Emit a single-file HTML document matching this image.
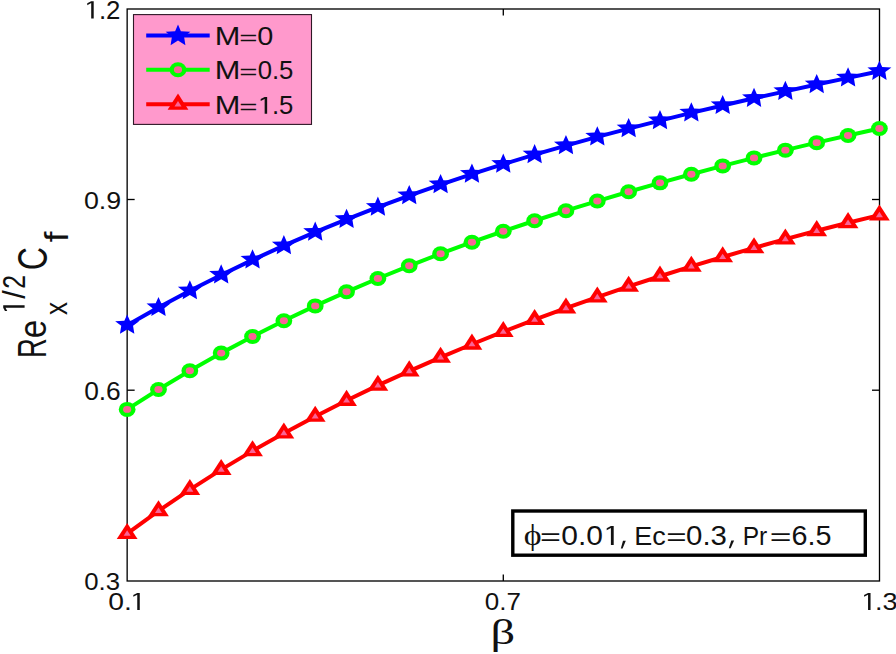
<!DOCTYPE html>
<html><head><meta charset="utf-8"><style>
html,body{margin:0;padding:0;background:#fff;width:896px;height:654px;overflow:hidden}
svg{display:block}
text{font-family:"Liberation Sans",sans-serif;fill:#111}
</style></head><body>
<svg width="896" height="654" viewBox="0 0 896 654">
<rect width="896" height="654" fill="#fff"/>
<rect x="127.15" y="9.0" width="752.35" height="572.0" fill="none" stroke="#000" stroke-width="1.33"/>
<line x1="127.15" y1="199.5" x2="134.65" y2="199.5" stroke="#000" stroke-width="1.33"/>
<line x1="879.5" y1="199.5" x2="872.0" y2="199.5" stroke="#000" stroke-width="1.33"/>
<line x1="127.15" y1="390.2" x2="134.65" y2="390.2" stroke="#000" stroke-width="1.33"/>
<line x1="879.5" y1="390.2" x2="872.0" y2="390.2" stroke="#000" stroke-width="1.33"/>
<line x1="503.3" y1="581.0" x2="503.3" y2="574.5" stroke="#000" stroke-width="1.33"/>
<line x1="503.3" y1="9.0" x2="503.3" y2="15.5" stroke="#000" stroke-width="1.33"/>
<polyline points="127.15,325.14 158.49,307.48 189.84,290.76 221.18,274.93 252.53,259.92 283.87,245.69 315.21,232.19 346.56,219.38 377.9,207.21 409.24,195.64 440.59,184.64 471.93,174.17 503.27,164.2 534.62,154.69 565.96,145.6 597.31,136.91 628.65,128.59 659.99,120.6 691.34,112.91 722.68,105.49 754.02,98.31 785.37,91.34 816.71,84.54 848.06,77.88 879.4,71.31" fill="none" stroke="#0000ff" stroke-width="4.0" stroke-linejoin="round" stroke-linecap="round"/>
<polyline points="127.15,409.38 158.49,389.48 189.84,370.75 221.18,353.11 252.53,336.46 283.87,320.75 315.21,305.89 346.56,291.82 377.9,278.48 409.24,265.8 440.59,253.74 471.93,242.24 503.27,231.26 534.62,220.76 565.96,210.7 597.31,201.04 628.65,191.76 659.99,182.83 691.34,174.22 722.68,165.91 754.02,157.9 785.37,150.15 816.71,142.66 848.06,135.43 879.4,128.43" fill="none" stroke="#00ff00" stroke-width="4.0" stroke-linejoin="round" stroke-linecap="round"/>
<polyline points="127.15,533.58 158.49,510.86 189.84,489.6 221.18,469.63 252.53,450.85 283.87,433.14 315.21,416.39 346.56,400.51 377.9,385.42 409.24,371.06 440.59,357.36 471.93,344.26 503.27,331.72 534.62,319.7 565.96,308.17 597.31,297.1 628.65,286.46 659.99,276.23 691.34,266.4 722.68,256.96 754.02,247.88 785.37,239.17 816.71,230.8 848.06,222.78 879.4,215.08" fill="none" stroke="#ff0000" stroke-width="4.0" stroke-linejoin="round" stroke-linecap="round"/>
<polygon points="127.15,314.54 129.95,320.84 139.15,321.24 133.05,325.84 134.35,333.74 127.15,329.44 119.95,333.74 121.25,325.84 115.15,321.24 124.35,320.84" fill="#0000ff"/>
<polygon points="158.49,296.88 161.29,303.18 170.49,303.58 164.39,308.18 165.69,316.08 158.49,311.78 151.29,316.08 152.59,308.18 146.49,303.58 155.69,303.18" fill="#0000ff"/>
<polygon points="189.84,280.16 192.64,286.46 201.84,286.86 195.74,291.46 197.04,299.36 189.84,295.06 182.64,299.36 183.94,291.46 177.84,286.86 187.04,286.46" fill="#0000ff"/>
<polygon points="221.18,264.33 223.98,270.63 233.18,271.03 227.08,275.63 228.38,283.53 221.18,279.23 213.98,283.53 215.28,275.63 209.18,271.03 218.38,270.63" fill="#0000ff"/>
<polygon points="252.53,249.32 255.33,255.62 264.52,256.02 258.43,260.62 259.73,268.52 252.53,264.22 245.33,268.52 246.62,260.62 240.53,256.02 249.72,255.62" fill="#0000ff"/>
<polygon points="283.87,235.09 286.67,241.39 295.87,241.79 289.77,246.39 291.07,254.29 283.87,249.99 276.67,254.29 277.97,246.39 271.87,241.79 281.07,241.39" fill="#0000ff"/>
<polygon points="315.21,221.59 318.01,227.89 327.21,228.29 321.11,232.89 322.41,240.79 315.21,236.49 308.01,240.79 309.31,232.89 303.21,228.29 312.41,227.89" fill="#0000ff"/>
<polygon points="346.56,208.78 349.36,215.08 358.56,215.48 352.46,220.08 353.76,227.98 346.56,223.68 339.36,227.98 340.66,220.08 334.56,215.48 343.76,215.08" fill="#0000ff"/>
<polygon points="377.9,196.61 380.7,202.91 389.9,203.31 383.8,207.91 385.1,215.81 377.9,211.51 370.7,215.81 372,207.91 365.9,203.31 375.1,202.91" fill="#0000ff"/>
<polygon points="409.24,185.04 412.04,191.34 421.24,191.74 415.14,196.34 416.44,204.24 409.24,199.94 402.04,204.24 403.34,196.34 397.24,191.74 406.44,191.34" fill="#0000ff"/>
<polygon points="440.59,174.04 443.39,180.34 452.59,180.74 446.49,185.34 447.79,193.24 440.59,188.94 433.39,193.24 434.69,185.34 428.59,180.74 437.79,180.34" fill="#0000ff"/>
<polygon points="471.93,163.57 474.73,169.87 483.93,170.27 477.83,174.87 479.13,182.77 471.93,178.47 464.73,182.77 466.03,174.87 459.93,170.27 469.13,169.87" fill="#0000ff"/>
<polygon points="503.27,153.6 506.07,159.9 515.27,160.3 509.17,164.9 510.47,172.8 503.27,168.5 496.07,172.8 497.38,164.9 491.27,160.3 500.47,159.9" fill="#0000ff"/>
<polygon points="534.62,144.09 537.42,150.39 546.62,150.79 540.52,155.39 541.82,163.29 534.62,158.99 527.42,163.29 528.72,155.39 522.62,150.79 531.82,150.39" fill="#0000ff"/>
<polygon points="565.96,135 568.76,141.3 577.96,141.7 571.86,146.3 573.16,154.2 565.96,149.9 558.76,154.2 560.06,146.3 553.96,141.7 563.16,141.3" fill="#0000ff"/>
<polygon points="597.31,126.31 600.11,132.61 609.31,133.01 603.21,137.61 604.51,145.51 597.31,141.21 590.11,145.51 591.41,137.61 585.31,133.01 594.51,132.61" fill="#0000ff"/>
<polygon points="628.65,117.99 631.45,124.29 640.65,124.69 634.55,129.29 635.85,137.19 628.65,132.89 621.45,137.19 622.75,129.29 616.65,124.69 625.85,124.29" fill="#0000ff"/>
<polygon points="659.99,110 662.79,116.3 671.99,116.7 665.89,121.3 667.19,129.2 659.99,124.9 652.79,129.2 654.09,121.3 647.99,116.7 657.19,116.3" fill="#0000ff"/>
<polygon points="691.34,102.31 694.14,108.61 703.34,109.01 697.24,113.61 698.54,121.51 691.34,117.21 684.14,121.51 685.44,113.61 679.34,109.01 688.54,108.61" fill="#0000ff"/>
<polygon points="722.68,94.89 725.48,101.19 734.68,101.59 728.58,106.19 729.88,114.09 722.68,109.79 715.48,114.09 716.78,106.19 710.68,101.59 719.88,101.19" fill="#0000ff"/>
<polygon points="754.02,87.71 756.82,94.01 766.02,94.41 759.92,99.01 761.23,106.91 754.02,102.61 746.82,106.91 748.12,99.01 742.02,94.41 751.23,94.01" fill="#0000ff"/>
<polygon points="785.37,80.74 788.17,87.04 797.37,87.44 791.27,92.04 792.57,99.94 785.37,95.64 778.17,99.94 779.47,92.04 773.37,87.44 782.57,87.04" fill="#0000ff"/>
<polygon points="816.71,73.94 819.51,80.24 828.71,80.64 822.61,85.24 823.91,93.14 816.71,88.84 809.51,93.14 810.81,85.24 804.71,80.64 813.91,80.24" fill="#0000ff"/>
<polygon points="848.06,67.28 850.86,73.58 860.06,73.98 853.96,78.58 855.26,86.48 848.06,82.18 840.86,86.48 842.16,78.58 836.06,73.98 845.26,73.58" fill="#0000ff"/>
<polygon points="879.4,60.71 882.2,67.01 891.4,67.41 885.3,72.01 886.6,79.91 879.4,75.61 872.2,79.91 873.5,72.01 867.4,67.41 876.6,67.01" fill="#0000ff"/>
<ellipse cx="127.15" cy="409.38" rx="8.4" ry="7.5" fill="#00ff00"/><ellipse cx="127.15" cy="409.38" rx="4.1" ry="3.45" fill="#f96496"/>
<ellipse cx="158.49" cy="389.48" rx="8.4" ry="7.5" fill="#00ff00"/><ellipse cx="158.49" cy="389.48" rx="4.1" ry="3.45" fill="#f96496"/>
<ellipse cx="189.84" cy="370.75" rx="8.4" ry="7.5" fill="#00ff00"/><ellipse cx="189.84" cy="370.75" rx="4.1" ry="3.45" fill="#f96496"/>
<ellipse cx="221.18" cy="353.11" rx="8.4" ry="7.5" fill="#00ff00"/><ellipse cx="221.18" cy="353.11" rx="4.1" ry="3.45" fill="#f96496"/>
<ellipse cx="252.53" cy="336.46" rx="8.4" ry="7.5" fill="#00ff00"/><ellipse cx="252.53" cy="336.46" rx="4.1" ry="3.45" fill="#f96496"/>
<ellipse cx="283.87" cy="320.75" rx="8.4" ry="7.5" fill="#00ff00"/><ellipse cx="283.87" cy="320.75" rx="4.1" ry="3.45" fill="#f96496"/>
<ellipse cx="315.21" cy="305.89" rx="8.4" ry="7.5" fill="#00ff00"/><ellipse cx="315.21" cy="305.89" rx="4.1" ry="3.45" fill="#f96496"/>
<ellipse cx="346.56" cy="291.82" rx="8.4" ry="7.5" fill="#00ff00"/><ellipse cx="346.56" cy="291.82" rx="4.1" ry="3.45" fill="#f96496"/>
<ellipse cx="377.9" cy="278.48" rx="8.4" ry="7.5" fill="#00ff00"/><ellipse cx="377.9" cy="278.48" rx="4.1" ry="3.45" fill="#f96496"/>
<ellipse cx="409.24" cy="265.8" rx="8.4" ry="7.5" fill="#00ff00"/><ellipse cx="409.24" cy="265.8" rx="4.1" ry="3.45" fill="#f96496"/>
<ellipse cx="440.59" cy="253.74" rx="8.4" ry="7.5" fill="#00ff00"/><ellipse cx="440.59" cy="253.74" rx="4.1" ry="3.45" fill="#f96496"/>
<ellipse cx="471.93" cy="242.24" rx="8.4" ry="7.5" fill="#00ff00"/><ellipse cx="471.93" cy="242.24" rx="4.1" ry="3.45" fill="#f96496"/>
<ellipse cx="503.27" cy="231.26" rx="8.4" ry="7.5" fill="#00ff00"/><ellipse cx="503.27" cy="231.26" rx="4.1" ry="3.45" fill="#f96496"/>
<ellipse cx="534.62" cy="220.76" rx="8.4" ry="7.5" fill="#00ff00"/><ellipse cx="534.62" cy="220.76" rx="4.1" ry="3.45" fill="#f96496"/>
<ellipse cx="565.96" cy="210.7" rx="8.4" ry="7.5" fill="#00ff00"/><ellipse cx="565.96" cy="210.7" rx="4.1" ry="3.45" fill="#f96496"/>
<ellipse cx="597.31" cy="201.04" rx="8.4" ry="7.5" fill="#00ff00"/><ellipse cx="597.31" cy="201.04" rx="4.1" ry="3.45" fill="#f96496"/>
<ellipse cx="628.65" cy="191.76" rx="8.4" ry="7.5" fill="#00ff00"/><ellipse cx="628.65" cy="191.76" rx="4.1" ry="3.45" fill="#f96496"/>
<ellipse cx="659.99" cy="182.83" rx="8.4" ry="7.5" fill="#00ff00"/><ellipse cx="659.99" cy="182.83" rx="4.1" ry="3.45" fill="#f96496"/>
<ellipse cx="691.34" cy="174.22" rx="8.4" ry="7.5" fill="#00ff00"/><ellipse cx="691.34" cy="174.22" rx="4.1" ry="3.45" fill="#f96496"/>
<ellipse cx="722.68" cy="165.91" rx="8.4" ry="7.5" fill="#00ff00"/><ellipse cx="722.68" cy="165.91" rx="4.1" ry="3.45" fill="#f96496"/>
<ellipse cx="754.02" cy="157.9" rx="8.4" ry="7.5" fill="#00ff00"/><ellipse cx="754.02" cy="157.9" rx="4.1" ry="3.45" fill="#f96496"/>
<ellipse cx="785.37" cy="150.15" rx="8.4" ry="7.5" fill="#00ff00"/><ellipse cx="785.37" cy="150.15" rx="4.1" ry="3.45" fill="#f96496"/>
<ellipse cx="816.71" cy="142.66" rx="8.4" ry="7.5" fill="#00ff00"/><ellipse cx="816.71" cy="142.66" rx="4.1" ry="3.45" fill="#f96496"/>
<ellipse cx="848.06" cy="135.43" rx="8.4" ry="7.5" fill="#00ff00"/><ellipse cx="848.06" cy="135.43" rx="4.1" ry="3.45" fill="#f96496"/>
<ellipse cx="879.4" cy="128.43" rx="8.4" ry="7.5" fill="#00ff00"/><ellipse cx="879.4" cy="128.43" rx="4.1" ry="3.45" fill="#f96496"/>
<polygon points="127.15,522.88 116.75,538.98 137.55,538.98" fill="#ff0000"/><polygon points="127.15,530.28 123.65,535.68 130.65,535.68" fill="#f96496"/>
<polygon points="158.49,500.16 148.09,516.26 168.89,516.26" fill="#ff0000"/><polygon points="158.49,507.56 154.99,512.96 161.99,512.96" fill="#f96496"/>
<polygon points="189.84,478.9 179.44,495 200.24,495" fill="#ff0000"/><polygon points="189.84,486.3 186.34,491.7 193.34,491.7" fill="#f96496"/>
<polygon points="221.18,458.93 210.78,475.03 231.58,475.03" fill="#ff0000"/><polygon points="221.18,466.33 217.68,471.73 224.68,471.73" fill="#f96496"/>
<polygon points="252.53,440.15 242.12,456.25 262.93,456.25" fill="#ff0000"/><polygon points="252.53,447.55 249.03,452.95 256.02,452.95" fill="#f96496"/>
<polygon points="283.87,422.44 273.47,438.54 294.27,438.54" fill="#ff0000"/><polygon points="283.87,429.84 280.37,435.24 287.37,435.24" fill="#f96496"/>
<polygon points="315.21,405.69 304.81,421.79 325.61,421.79" fill="#ff0000"/><polygon points="315.21,413.09 311.71,418.49 318.71,418.49" fill="#f96496"/>
<polygon points="346.56,389.81 336.16,405.91 356.96,405.91" fill="#ff0000"/><polygon points="346.56,397.21 343.06,402.61 350.06,402.61" fill="#f96496"/>
<polygon points="377.9,374.72 367.5,390.82 388.3,390.82" fill="#ff0000"/><polygon points="377.9,382.12 374.4,387.52 381.4,387.52" fill="#f96496"/>
<polygon points="409.24,360.36 398.84,376.46 419.64,376.46" fill="#ff0000"/><polygon points="409.24,367.76 405.74,373.16 412.74,373.16" fill="#f96496"/>
<polygon points="440.59,346.66 430.19,362.76 450.99,362.76" fill="#ff0000"/><polygon points="440.59,354.06 437.09,359.46 444.09,359.46" fill="#f96496"/>
<polygon points="471.93,333.56 461.53,349.66 482.33,349.66" fill="#ff0000"/><polygon points="471.93,340.96 468.43,346.36 475.43,346.36" fill="#f96496"/>
<polygon points="503.27,321.02 492.88,337.12 513.67,337.12" fill="#ff0000"/><polygon points="503.27,328.42 499.77,333.82 506.77,333.82" fill="#f96496"/>
<polygon points="534.62,309 524.22,325.1 545.02,325.1" fill="#ff0000"/><polygon points="534.62,316.4 531.12,321.8 538.12,321.8" fill="#f96496"/>
<polygon points="565.96,297.47 555.56,313.57 576.36,313.57" fill="#ff0000"/><polygon points="565.96,304.87 562.46,310.27 569.46,310.27" fill="#f96496"/>
<polygon points="597.31,286.4 586.91,302.5 607.71,302.5" fill="#ff0000"/><polygon points="597.31,293.8 593.81,299.2 600.81,299.2" fill="#f96496"/>
<polygon points="628.65,275.76 618.25,291.86 639.05,291.86" fill="#ff0000"/><polygon points="628.65,283.16 625.15,288.56 632.15,288.56" fill="#f96496"/>
<polygon points="659.99,265.53 649.59,281.63 670.39,281.63" fill="#ff0000"/><polygon points="659.99,272.93 656.49,278.33 663.49,278.33" fill="#f96496"/>
<polygon points="691.34,255.7 680.94,271.8 701.74,271.8" fill="#ff0000"/><polygon points="691.34,263.1 687.84,268.5 694.84,268.5" fill="#f96496"/>
<polygon points="722.68,246.26 712.28,262.36 733.08,262.36" fill="#ff0000"/><polygon points="722.68,253.66 719.18,259.06 726.18,259.06" fill="#f96496"/>
<polygon points="754.02,237.18 743.62,253.28 764.42,253.28" fill="#ff0000"/><polygon points="754.02,244.58 750.52,249.98 757.52,249.98" fill="#f96496"/>
<polygon points="785.37,228.47 774.97,244.57 795.77,244.57" fill="#ff0000"/><polygon points="785.37,235.87 781.87,241.27 788.87,241.27" fill="#f96496"/>
<polygon points="816.71,220.1 806.31,236.2 827.11,236.2" fill="#ff0000"/><polygon points="816.71,227.5 813.21,232.9 820.21,232.9" fill="#f96496"/>
<polygon points="848.06,212.08 837.66,228.18 858.46,228.18" fill="#ff0000"/><polygon points="848.06,219.48 844.56,224.88 851.56,224.88" fill="#f96496"/>
<polygon points="879.4,204.38 869,220.48 889.8,220.48" fill="#ff0000"/><polygon points="879.4,211.78 875.9,217.18 882.9,217.18" fill="#f96496"/>
<rect x="133.5" y="14.6" width="178" height="109.8" fill="#ff99cc" stroke="#2e1826" stroke-width="1.1"/>
<line x1="146.2" y1="35.5" x2="209.7" y2="35.5" stroke="#0000ff" stroke-width="4.0"/>
<polygon points="178,24.45 180.88,31.26 190.36,31.69 184.08,36.66 185.42,45.19 178,40.54 170.58,45.19 171.92,36.66 165.64,31.69 175.12,31.26" fill="#0000ff"/>
<line x1="146.2" y1="69.8" x2="209.7" y2="69.8" stroke="#00ff00" stroke-width="4.0"/>
<ellipse cx="178" cy="69.8" rx="8.4" ry="7.5" fill="#00ff00"/><ellipse cx="178" cy="69.8" rx="4.1" ry="3.45" fill="#f96496"/>
<line x1="146.2" y1="104.3" x2="209.7" y2="104.3" stroke="#ff0000" stroke-width="4.0"/>
<polygon points="178,93.6 167.6,109.7 188.4,109.7" fill="#ff0000"/><polygon points="178,101 174.5,106.4 181.5,106.4" fill="#f96496"/>
<polygon points="93.70,1.20 93.70,18.60 91.20,18.60 91.20,3.10 87.25,5.15 87.25,3.25 91.20,1.20" fill="#111"/>
<text transform="translate(98.93 18.60) scale(0.2583 0.2486)" font-size="100" style="font-family:&quot;Liberation Sans&quot;, sans-serif" fill="#111">.2</text>
<text transform="translate(83.93 209.10) scale(0.2682 0.2429)" font-size="100" style="font-family:&quot;Liberation Sans&quot;, sans-serif" fill="#111">0.9</text>
<text transform="translate(84.15 400.10) scale(0.2636 0.2500)" font-size="100" style="font-family:&quot;Liberation Sans&quot;, sans-serif" fill="#111">0.6</text>
<text transform="translate(84.27 590.40) scale(0.2575 0.2443)" font-size="100" style="font-family:&quot;Liberation Sans&quot;, sans-serif" fill="#111">0.3</text>
<polygon points="139.75,592.90 139.75,610.00 137.25,610.00 137.25,594.80 133.30,596.85 133.30,594.95 137.25,592.90" fill="#111"/>
<text transform="translate(108.17 610.00) scale(0.2829 0.2429)" font-size="100" style="font-family:&quot;Liberation Sans&quot;, sans-serif" fill="#111">0.</text>
<text transform="translate(484.76 610.30) scale(0.2600 0.2429)" font-size="100" style="font-family:&quot;Liberation Sans&quot;, sans-serif" fill="#111">0.7</text>
<polygon points="870.55,592.90 870.55,610.00 868.05,610.00 868.05,594.80 864.10,596.85 864.10,594.95 868.05,592.90" fill="#111"/>
<text transform="translate(874.97 610.00) scale(0.2700 0.2429)" font-size="100" style="font-family:&quot;Liberation Sans&quot;, sans-serif" fill="#111">.3</text>
<polygon points="267.15,97.00 267.15,113.80 264.65,113.80 264.65,98.90 260.70,100.95 260.70,99.05 264.65,97.00" fill="#111"/>
<text transform="translate(214.74 44.90) scale(0.3075 0.2522)" font-size="100" style="font-family:&quot;Liberation Sans&quot;, sans-serif" fill="#111">M</text>
<text transform="translate(239.23 44.76) scale(0.3134 0.2094)" font-size="100" style="font-family:&quot;Liberation Sans&quot;, sans-serif" fill="#111">=</text>
<text transform="translate(257.25 44.90) scale(0.2884 0.2522)" font-size="100" style="font-family:&quot;Liberation Sans&quot;, sans-serif" fill="#111">0</text>
<text transform="translate(214.74 79.40) scale(0.3075 0.2522)" font-size="100" style="font-family:&quot;Liberation Sans&quot;, sans-serif" fill="#111">M</text>
<text transform="translate(239.23 79.26) scale(0.3134 0.2094)" font-size="100" style="font-family:&quot;Liberation Sans&quot;, sans-serif" fill="#111">=</text>
<text transform="translate(257.67 79.40) scale(0.2573 0.2522)" font-size="100" style="font-family:&quot;Liberation Sans&quot;, sans-serif" fill="#111">0.5</text>
<text transform="translate(214.74 113.90) scale(0.3075 0.2522)" font-size="100" style="font-family:&quot;Liberation Sans&quot;, sans-serif" fill="#111">M</text>
<text transform="translate(239.23 113.76) scale(0.3134 0.2094)" font-size="100" style="font-family:&quot;Liberation Sans&quot;, sans-serif" fill="#111">=</text>
<text transform="translate(271.99 113.90) scale(0.2567 0.2522)" font-size="100" style="font-family:&quot;Liberation Sans&quot;, sans-serif" fill="#111">.5</text>
<rect x="512.8" y="511" width="352.5" height="44.2" fill="#fff" stroke="#000" stroke-width="3.4"/>
<text transform="translate(523.82 544.92) scale(0.3385 0.2923)" font-size="100" style="font-family:&quot;Liberation Serif&quot;, serif" fill="#111">ϕ</text>
<text transform="translate(540.01 544.88) scale(0.3588 0.2344)" font-size="100" style="font-family:&quot;Liberation Sans&quot;, sans-serif" fill="#111">=</text>
<text transform="translate(561.30 545.00) scale(0.3000 0.2686)" font-size="100" style="font-family:&quot;Liberation Sans&quot;, sans-serif" fill="#111">0.0</text>
<polygon points="613.70,526.00 613.70,545.00 610.90,545.00 610.90,528.10 606.70,530.35 606.70,528.25 610.90,526.00" fill="#111"/>
<polygon points="623.0,540.8 625.8,540.8 622.6,548.6 620.8,548.6" fill="#111"/>
<text transform="translate(634.14 544.70) scale(0.2698 0.2652)" font-size="100" style="font-family:&quot;Liberation Sans&quot;, sans-serif" fill="#111">Ec</text>
<text transform="translate(666.16 544.88) scale(0.3485 0.2344)" font-size="100" style="font-family:&quot;Liberation Sans&quot;, sans-serif" fill="#111">=</text>
<text transform="translate(686.02 545.00) scale(0.2943 0.2686)" font-size="100" style="font-family:&quot;Liberation Sans&quot;, sans-serif" fill="#111">0.3</text>
<polygon points="731.3,540.5 734.1,540.5 730.6,548.3 728.8,548.3" fill="#111"/>
<text transform="translate(742.74 544.70) scale(0.2456 0.2652)" font-size="100" style="font-family:&quot;Liberation Sans&quot;, sans-serif" fill="#111">Pr</text>
<text transform="translate(769.63 544.88) scale(0.3732 0.2344)" font-size="100" style="font-family:&quot;Liberation Sans&quot;, sans-serif" fill="#111">=</text>
<text transform="translate(791.56 545.00) scale(0.2877 0.2686)" font-size="100" style="font-family:&quot;Liberation Sans&quot;, sans-serif" fill="#111">6.5</text>
<text transform="translate(490.55 644.10) scale(0.4850 0.3674)" font-size="100" style="font-family:&quot;Liberation Serif&quot;, serif" fill="#111">β</text>
<text transform="translate(46.20 358.01) rotate(-90) scale(0.2756 0.4058)" font-size="100" style="font-family:&quot;Liberation Sans&quot;, sans-serif" fill="#111">R</text>
<text transform="translate(46.12 338.20) rotate(-90) scale(0.3333 0.3818)" font-size="100" style="font-family:&quot;Liberation Sans&quot;, sans-serif" fill="#111">e</text>
<text transform="translate(67.40 314.89) rotate(-90) scale(0.2632 0.3132)" font-size="100" style="font-family:&quot;Liberation Sans&quot;, sans-serif" fill="#111">x</text>
<polygon points="3.20,305.35 24.60,305.35 24.60,307.85 5.50,307.85 7.25,311.00 4.95,311.00 3.20,307.85" fill="#111"/>
<text transform="translate(25.38 298.80) rotate(-90) scale(0.3055 0.3211)" font-size="100" style="font-family:&quot;Liberation Sans&quot;, sans-serif" fill="#111">/</text>
<text transform="translate(24.60 288.84) rotate(-90) scale(0.2484 0.3057)" font-size="100" style="font-family:&quot;Liberation Sans&quot;, sans-serif" fill="#111">2</text>
<text transform="translate(46.78 270.21) rotate(-90) scale(0.3222 0.4197)" font-size="100" style="font-family:&quot;Liberation Sans&quot;, sans-serif" fill="#111">C</text>
<text transform="translate(67.60 242.28) rotate(-90) scale(0.3849 0.3407)" font-size="100" style="font-family:&quot;Liberation Sans&quot;, sans-serif" fill="#111">f</text>
</svg>
</body></html>
